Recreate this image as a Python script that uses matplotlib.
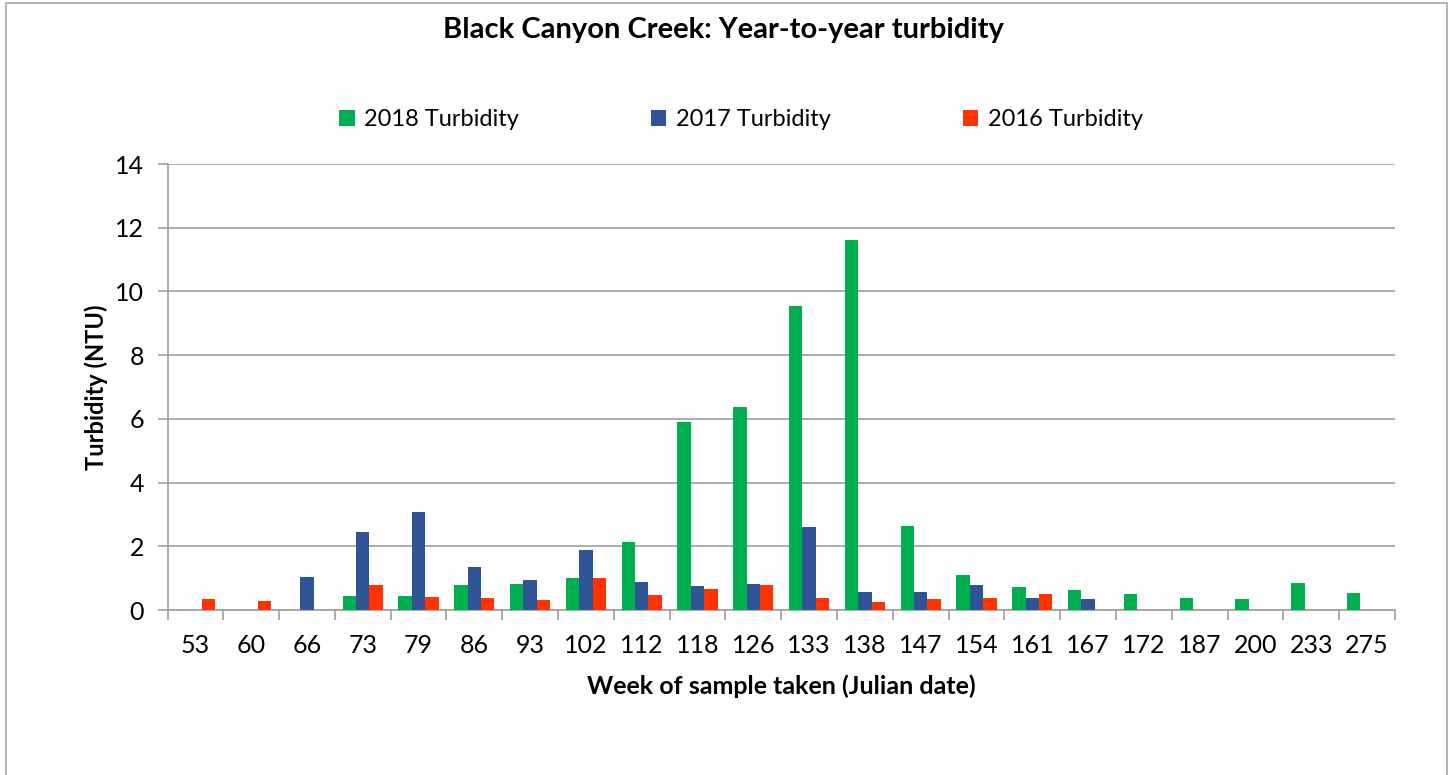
import numpy as np
import matplotlib
matplotlib.use("Agg")
import matplotlib.pyplot as plt
from matplotlib.patches import Rectangle, Patch

plt.rcParams['font.family'] = ['Lato', 'DejaVu Sans']

categories = ["53", "60", "66", "73", "79", "86", "93", "102", "112", "118", "126",
              "133", "138", "147", "154", "161", "167", "172", "187", "200", "233", "275"]
nan = np.nan
turb_2018 = [nan, nan, nan, 0.44, 0.43, 0.77, 0.81, 1.01, 2.12, 5.91, 6.36,
             9.53, 11.62, 2.65, 1.09, 0.73, 0.63, 0.49, 0.39, 0.35, 0.86, 0.52]
turb_2017 = [nan, nan, 1.03, 2.46, 3.07, 1.35, 0.94, 1.88, 0.89, 0.75, 0.82,
             2.62, 0.57, 0.58, 0.77, 0.37, 0.34, nan, nan, nan, nan, nan]
turb_2016 = [0.34, 0.27, nan, 0.77, 0.40, 0.37, 0.32, 1.02, 0.47, 0.65, 0.77,
             0.39, 0.25, 0.35, 0.38, 0.51, nan, nan, nan, nan, nan, nan]
series_labels = ["2018 Turbidity", "2017 Turbidity", "2016 Turbidity"]
colors = ["#00B050", "#2F5597", "#FF3300"]

W, H = 1453, 775
fig = plt.figure(figsize=(W / 100, H / 100), dpi=100)
fig.patch.set_facecolor("white")

# outer chart border
fig.patches.append(Rectangle((5.5 / W, -0.05), (1447 - 5.5) / W, 1.05 - 3 / H,
                             transform=fig.transFigure, fill=False,
                             edgecolor="#A6A6A6", linewidth=1.2))

left, right, top, bottom = 167.5, 1395, 164, 610
ax = fig.add_axes([left / W, 1 - bottom / H, (right - left) / W, (bottom - top) / H])

x = np.arange(len(categories))
bw = 0.24
for k, (vals, c, lab) in enumerate(zip([turb_2018, turb_2017, turb_2016], colors, series_labels)):
    ax.bar(x + (k - 1) * bw, vals, width=bw, color=c, label=lab, zorder=3)

ax.set_xlim(-0.5, len(categories) - 0.5)
ax.set_ylim(0, 14)
ax.set_yticks(np.arange(0, 15, 2))
ax.set_xticks(x)
ax.set_xticklabels(categories)
ax.set_xticks(np.arange(-0.5, len(categories), 1), minor=True)
ax.tick_params(axis="x", which="major", length=0, labelsize=18, pad=17)
ax.tick_params(axis="x", which="minor", length=7, color="#A0A0A0", width=1.2)
ax.tick_params(axis="y", which="major", length=7, color="#A0A0A0", width=1.2,
               labelsize=18, pad=10)
ax.grid(axis="y", color="#A0A0A0", linewidth=1.2, zorder=0)
ax.set_axisbelow(True)
for s in ["top", "right"]:
    ax.spines[s].set_visible(False)
for s in ["left", "bottom"]:
    ax.spines[s].set_color("#A0A0A0")
    ax.spines[s].set_linewidth(1.2)

ax.set_xlabel("Week of sample taken (Julian date)", fontsize=18, fontweight="bold", labelpad=13)
ax.set_ylabel("Turbidity (NTU)", fontsize=17, fontweight="bold", labelpad=5)

fig.text(723 / W, 1 - 30 / H, "Black Canyon Creek: Year-to-year turbidity",
         ha="center", va="center", fontsize=21, fontweight="bold")

handles = [Patch(facecolor=c, label=l) for c, l in zip(colors, series_labels)]
fig.legend(handles=handles, loc="center", bbox_to_anchor=(741 / W, 1 - 120 / H),
           ncol=3, frameon=False, fontsize=17, handlelength=0.65, handleheight=0.65,
           handletextpad=0.4, columnspacing=5.6)

fig.savefig("out.png", dpi=100, facecolor="white")
